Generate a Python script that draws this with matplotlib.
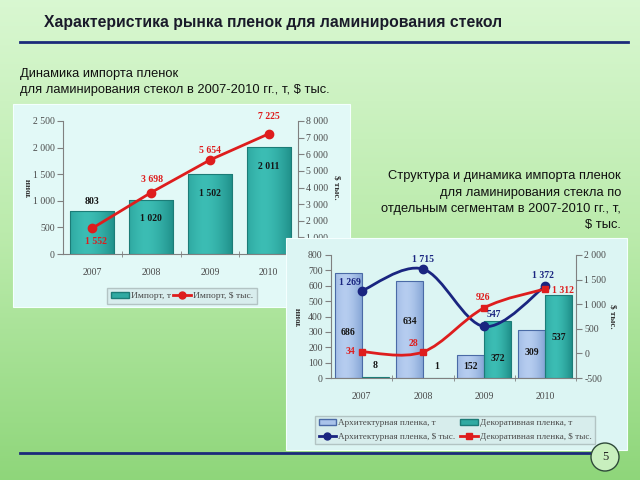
import numpy as np
import matplotlib
matplotlib.use('Agg')
import matplotlib.pyplot as plt
from matplotlib.patches import Rectangle, Ellipse, PathPatch
from matplotlib.path import Path
from matplotlib.lines import Line2D

# ---------------- data ----------------
years = ['2007', '2008', '2009', '2010']
import_t = [803, 1020, 1502, 2011]
import_usd = [1552, 3698, 5654, 7225]
arch_t = [686, 634, 152, 309]
deco_t = [8, 1, 372, 537]
arch_usd = [1269, 1715, 547, 1372]
deco_usd = [34, 28, 926, 1312]

left_yticks = [0, 500, 1000, 1500, 2000, 2500]
left_y2ticks = [0, 1000, 2000, 3000, 4000, 5000, 6000, 7000, 8000]
right_yticks = [0, 100, 200, 300, 400, 500, 600, 700, 800]
right_y2ticks = [-500, 0, 500, 1000, 1500, 2000]

# ---------------- style ----------------
W, H = 640, 480
SERIF = 'Liberation Serif'
SANS = 'Liberation Sans'
TEAL = '#2faaa2'
TEAL_E = '#1c7c77'
ABLUE = '#a9c3ea'
ABLUE_E = '#4a6aa6'
RED = '#de1d1d'
NAVY = '#1a2580'
GRAY = '#808080'
TXT = '#4a4a4a'


def fmt(v):
    return f"{v:,}".replace(',', ' ')


def box(x0, y0, x1, y1):
    return [x0 / W, 1 - y1 / H, (x1 - x0) / W, (y1 - y0) / H]


def fx(px):
    return px / W


def fy(py):
    return 1 - py / H


fig = plt.figure(figsize=(6.4, 4.8), dpi=100)

# background gradient
bg = fig.add_axes([0, 0, 1, 1], zorder=-10)
top = np.array([0.85, 0.97, 0.82])
mid = np.array([0.73, 0.92, 0.67])
bot = np.array([0.56, 0.84, 0.48])
g = np.zeros((256, 1, 3))
for i, tv in enumerate(np.linspace(0, 1, 256)):
    if tv < 0.5:
        g[i, 0] = top + (mid - top) * tv / 0.5
    else:
        g[i, 0] = mid + (bot - mid) * (tv - 0.5) / 0.5
bg.imshow(g, aspect='auto', extent=[0, 1, 0, 1])
bg.set_axis_off()

# title & lines
fig.text(fx(44), fy(22), 'Характеристика рынка пленок для ламинирования стекол',
         fontsize=11.3, fontweight='bold', family=SANS, color='#1a1a2a', va='center')
fig.add_artist(Line2D([fx(20), fx(628)], [fy(42), fy(42)], color='#1b2a7a', lw=2,
                      transform=fig.transFigure))
fig.add_artist(Line2D([fx(20), fx(592)], [fy(453), fy(453)], color='#1b2a7a', lw=2,
                      transform=fig.transFigure))

fig.text(fx(20), fy(74), 'Динамика импорта пленок', fontsize=9.3, family=SANS,
         color='#111', va='center')
fig.text(fx(20), fy(90), 'для ламинирования стекол в 2007-2010 гг., т, $ тыс.',
         fontsize=9.3, family=SANS, color='#111', va='center')

rt = ['Структура и динамика импорта пленок', 'для ламинирования стекла по',
      'отдельным сегментам в 2007-2010 гг., т,', '$ тыс.']
for i, s in enumerate(rt):
    fig.text(fx(621), fy(176 + 16.5 * i), s, fontsize=9.3, family=SANS, color='#111',
             ha='right', va='center')

# page number
fig.add_artist(Ellipse((fx(605), fy(457)), 28 / W, 28 / H, facecolor='#c8efbe',
                       edgecolor='#2f4a3a', lw=1, transform=fig.transFigure, zorder=6))
fig.text(fx(605), fy(457), '5', fontsize=9, family=SERIF, color='#222', ha='center',
         va='center', zorder=7)

# panels
fig.add_artist(Rectangle((fx(13), fy(307)), (350 - 13) / W, (307 - 104) / H,
                         facecolor='#e2f9f7', edgecolor='#f4fffe', lw=0.8,
                         transform=fig.transFigure, zorder=1))
fig.add_artist(Rectangle((fx(286), fy(450)), (627 - 286) / W, (450 - 238) / H,
                         facecolor='#dcf5f3', edgecolor='#f4fffe', lw=0.8,
                         transform=fig.transFigure, zorder=4))


def style_axes(ax):
    for s in ['top', 'right', 'left', 'bottom']:
        ax.spines[s].set_visible(False)
    ax.patch.set_visible(False)


def bezier_smooth(ax, xs, ys, **kw):
    pts = np.column_stack([xs, ys]).astype(float)
    n = len(pts)
    verts = [pts[0]]
    codes = [Path.MOVETO]
    for i in range(n - 1):
        p0 = pts[max(i - 1, 0)]
        p1 = pts[i]
        p2 = pts[i + 1]
        p3 = pts[min(i + 2, n - 1)]
        c1 = p1 + (p2 - p0) / 6.0
        c2 = p2 - (p3 - p1) / 6.0
        verts += [c1, c2, p2]
        codes += [Path.CURVE4] * 3
    ax.add_patch(PathPatch(Path(verts, codes), fill=False, **kw))


def shade_bars(ax, bars, c_edge, c_mid):
    c_edge = np.array(matplotlib.colors.to_rgb(c_edge))
    c_mid = np.array(matplotlib.colors.to_rgb(c_mid))
    tt = np.linspace(-1, 1, 64)
    f = 1 - np.abs(tt + 0.25).clip(0, 1.25) ** 1.6 / 1.25 ** 1.6
    img = c_edge[None, :] + (c_mid - c_edge)[None, :] * f[:, None]
    for b in bars:
        x0, y0 = b.get_xy()
        w, h = b.get_width(), b.get_height()
        if h <= 0:
            continue
        im = ax.imshow(img[None, :, :], extent=[x0, x0 + w, y0, y0 + h],
                       aspect='auto', zorder=2, interpolation='bilinear')
        im.set_clip_path(b)


x = np.arange(len(years))

# ---------------- left chart ----------------
ax1 = fig.add_axes(box(63, 121, 298, 254), zorder=2)
style_axes(ax1)
ax1.spines['left'].set_visible(True)
ax1.spines['bottom'].set_visible(True)
ax1.spines['left'].set_color(GRAY)
ax1.spines['bottom'].set_color(GRAY)
b1 = ax1.bar(x, import_t, width=0.75, facecolor='none', edgecolor=TEAL_E, lw=0.8,
             zorder=3)
shade_bars(ax1, b1, '#1f8f89', '#3cbdb4')
ax1.set_xlim(-0.5, 3.5)
ax1.set_ylim(0, 2500)
ax1.set_yticks(left_yticks)
ax1.set_yticklabels([fmt(v) for v in left_yticks], family=SERIF, fontsize=7, color=TXT)
ax1.set_xticks(x)
ax1.set_xticklabels(years, family=SERIF, fontsize=7, color=TXT)
ax1.set_xticks([0.5, 1.5, 2.5, 3.5], minor=True)
ax1.tick_params(axis='x', which='major', length=0, pad=10)
ax1.tick_params(axis='x', which='minor', length=4, color=GRAY, direction='inout')
ax1.tick_params(axis='y', length=4, color=GRAY, pad=2)

ax1b = ax1.twinx()
ax1b.set_zorder(3)
style_axes(ax1b)
ax1b.spines['right'].set_visible(True)
ax1b.spines['right'].set_color(GRAY)
ax1b.set_ylim(0, 8000)
ax1b.set_yticks(left_y2ticks)
# the lowest label sits behind the second panel in the reference
ax1b.set_yticklabels(['' if v == 0 else fmt(v) for v in left_y2ticks], family=SERIF,
                     fontsize=7, color=TXT)
ax1b.tick_params(axis='y', length=4, color=GRAY, pad=2)
ax1b.plot(x, import_usd, color=RED, lw=2, marker='o', ms=6, zorder=3)

bar_dy = [10, -19, -19, -19]
for i, v in enumerate(import_t):
    ax1.annotate(fmt(v), (x[i], v), xytext=(0, bar_dy[i]), textcoords='offset pixels',
                 ha='center', va='center', family=SERIF, fontsize=7, fontweight='bold',
                 color='#151515', zorder=4)
line_off = [(4, -13), (1, 13), (0, 10), (0, 17)]
for i, v in enumerate(import_usd):
    ax1b.annotate(fmt(v), (x[i], v), xytext=line_off[i], textcoords='offset pixels',
                  ha='center', va='center', family=SERIF, fontsize=7, fontweight='bold',
                  color=RED)

fig.text(fx(29), fy(187), 'тонн', rotation=90, family=SERIF, fontsize=6.5,
         fontweight='bold', color='#333', ha='center', va='center', zorder=3)
fig.text(fx(337), fy(187), '$ тыс.', rotation=270, family=SERIF, fontsize=6.5,
         fontweight='bold', color='#333', ha='center', va='center', zorder=3)

leg1 = fig.legend([Rectangle((0, 0), 1, 1, facecolor=TEAL, edgecolor=TEAL_E),
                   Line2D([], [], color=RED, lw=2, marker='o', ms=5)],
                  ['Импорт, т', 'Импорт, $ тыс.'], loc='center',
                  bbox_to_anchor=(fx(182), fy(296)), ncol=2, frameon=True,
                  fancybox=False, prop={'family': SERIF, 'size': 6.8},
                  handlelength=1.9, handletextpad=0.2, columnspacing=0.3,
                  borderpad=0.35, labelcolor=TXT)
leg1.get_frame().set_facecolor('#d6ebeb')
leg1.get_frame().set_edgecolor('#a9b9b9')
leg1.set_zorder(3)

# ---------------- right chart ----------------
ax2 = fig.add_axes(box(331, 255, 576, 378), zorder=5)
style_axes(ax2)
ax2.spines['left'].set_visible(True)
ax2.spines['bottom'].set_visible(True)
ax2.spines['left'].set_color(GRAY)
ax2.spines['bottom'].set_color(GRAY)
bw = 0.44
b2a = ax2.bar(x - bw / 2, arch_t, width=bw, facecolor='none', edgecolor=ABLUE_E,
              lw=0.8, zorder=3)
b2d = ax2.bar(x + bw / 2, deco_t, width=bw, facecolor='none', edgecolor=TEAL_E,
              lw=0.8, zorder=3)
shade_bars(ax2, b2a, '#86a6d6', '#b6cdf0')
shade_bars(ax2, b2d, '#1f8f89', '#3cbdb4')
ax2.set_xlim(-0.5, 3.5)
ax2.set_ylim(0, 800)
ax2.set_yticks(right_yticks)
ax2.set_yticklabels([fmt(v) for v in right_yticks], family=SERIF, fontsize=7, color=TXT)
ax2.set_xticks(x)
ax2.set_xticklabels(years, family=SERIF, fontsize=7, color=TXT)
ax2.set_xticks([0.5, 1.5, 2.5, 3.5], minor=True)
ax2.tick_params(axis='x', which='major', length=0, pad=10)
ax2.tick_params(axis='x', which='minor', length=4, color=GRAY, direction='inout')
ax2.tick_params(axis='y', length=4, color=GRAY, pad=2)

ax2b = ax2.twinx()
ax2b.set_zorder(6)
style_axes(ax2b)
ax2b.spines['right'].set_visible(True)
ax2b.spines['right'].set_color(GRAY)
ax2b.set_ylim(-500, 2000)
ax2b.set_yticks(right_y2ticks)
ax2b.set_yticklabels([fmt(v) for v in right_y2ticks], family=SERIF, fontsize=7, color=TXT)
ax2b.tick_params(axis='y', length=4, color=GRAY, pad=2)

bezier_smooth(ax2b, x, arch_usd, edgecolor=NAVY, lw=2, zorder=3)
ax2b.plot(x, arch_usd, ls='none', marker='o', ms=6, color=NAVY, zorder=4)
bezier_smooth(ax2b, x, deco_usd, edgecolor=RED, lw=2, zorder=3)
ax2b.plot(x, deco_usd, ls='none', marker='s', ms=5, color=RED, zorder=4)

arch_dy = [-60, -41, -12, -22]
deco_dy = [11, 11, -38, -42]
for i in range(len(years)):
    ax2.annotate(fmt(arch_t[i]), (x[i] - bw / 2, arch_t[i]), xytext=(0, arch_dy[i]),
                 textcoords='offset pixels', ha='center', va='center', family=SERIF,
                 fontsize=7, fontweight='bold', color='#151515', zorder=4)
    ax2.annotate(fmt(deco_t[i]), (x[i] + bw / 2, deco_t[i]), xytext=(0, deco_dy[i]),
                 textcoords='offset pixels', ha='center', va='center', family=SERIF,
                 fontsize=7, fontweight='bold', color='#151515', zorder=4)

arch_off = [(-12, 8), (0, 10), (10, 12), (-2, 10)]
deco_off = [(-11, 0), (-9, 9), (-1, 10), (18, -2)]
for i in range(len(years)):
    ax2b.annotate(fmt(arch_usd[i]), (x[i], arch_usd[i]), xytext=arch_off[i],
                  textcoords='offset pixels', ha='center', va='center', family=SERIF,
                  fontsize=7, fontweight='bold', color=NAVY, zorder=5)
    ax2b.annotate(fmt(deco_usd[i]), (x[i], deco_usd[i]), xytext=deco_off[i],
                  textcoords='offset pixels', ha='center', va='center', family=SERIF,
                  fontsize=7, fontweight='bold', color=RED, zorder=5)

fig.text(fx(299), fy(316), 'тонн', rotation=90, family=SERIF, fontsize=6.5,
         fontweight='bold', color='#333', ha='center', va='center', zorder=6)
fig.text(fx(613), fy(316), '$ тыс.', rotation=270, family=SERIF, fontsize=6.5,
         fontweight='bold', color='#333', ha='center', va='center', zorder=6)

h_at = Rectangle((0, 0), 1, 1, facecolor=ABLUE, edgecolor=ABLUE_E)
h_dt = Rectangle((0, 0), 1, 1, facecolor=TEAL, edgecolor=TEAL_E)
h_au = Line2D([], [], color=NAVY, lw=2, marker='o', ms=5)
h_du = Line2D([], [], color=RED, lw=2, marker='s', ms=4)
leg2 = fig.legend([h_at, h_au, h_dt, h_du],
                  ['Архитектурная пленка, т', 'Архитектурная пленка, $ тыс.',
                   'Декоративная пленка, т', 'Декоративная пленка, $ тыс.'],
                  loc='center', bbox_to_anchor=(fx(455), fy(430)), ncol=2, frameon=True,
                  fancybox=False, prop={'family': SERIF, 'size': 6.6},
                  handlelength=1.9, handletextpad=0.2, columnspacing=0.6,
                  borderpad=0.35, labelspacing=0.6, labelcolor=TXT)
leg2.get_frame().set_facecolor('#d6ebeb')
leg2.get_frame().set_edgecolor('#a9b9b9')
leg2.set_zorder(7)

fig.savefig('out.png', dpi=100)
